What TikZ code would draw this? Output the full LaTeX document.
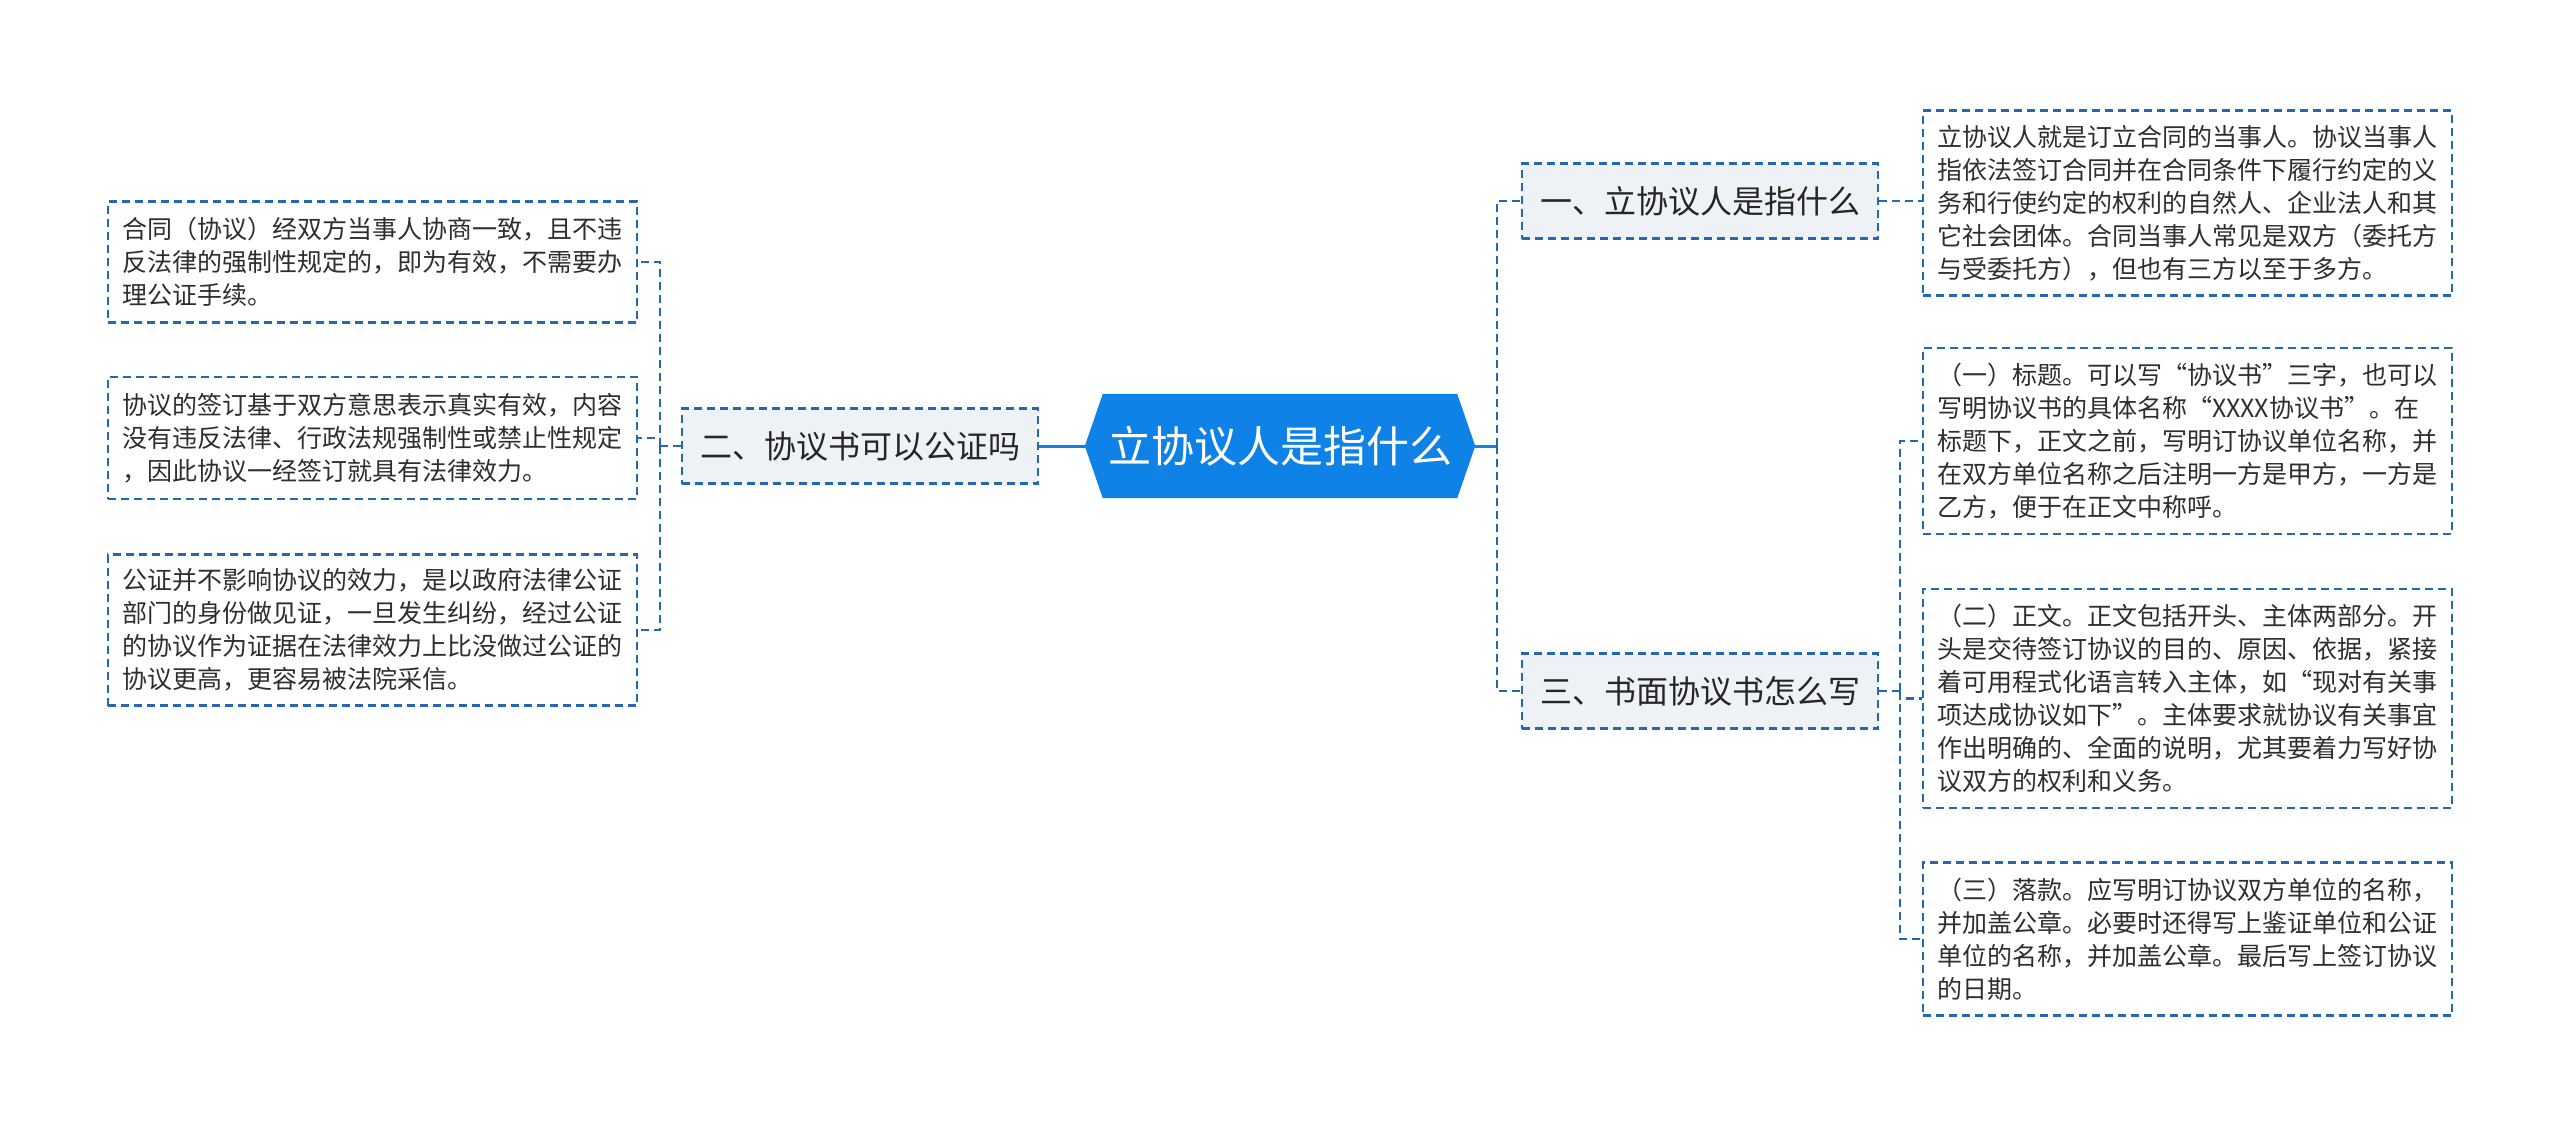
\documentclass[tikz,border=0pt]{standalone}
\usepackage{fontspec}
\setmainfont{Noto Sans CJK SC}
\usetikzlibrary{backgrounds}
\definecolor{rootblue}{HTML}{0E82E6}
\definecolor{lineblue}{HTML}{2368B0}
\definecolor{branchfill}{HTML}{EEF1F5}
\definecolor{txt}{HTML}{2E2E2E}
\tikzset{
 leafbox/.style={draw=lineblue, line width=2.4pt, dash pattern=on 8pt off 5pt, fill=white, text=txt, align=left, text width=501pt, inner xsep=14pt, inner ysep=0pt, font=\fontsize{25}{33}\selectfont},
 branchbox/.style={draw=lineblue, line width=2.4pt, dash pattern=on 8pt off 5pt, fill=branchfill, text=black!85, minimum width=356pt, minimum height=75pt, inner sep=0pt, font=\fontsize{32}{36}\selectfont},
 rootnode/.style={minimum width=390pt, minimum height=104pt, inner sep=0pt, text=white, font=\fontsize{43}{48}\selectfont},
 dashconn/.style={draw=lineblue, line width=2.4pt, dash pattern=on 8pt off 5pt},
 solidconn/.style={draw=rootblue, line width=3pt},
}
\begin{document}
\begin{tikzpicture}[x=1pt,y=-1pt]
\useasboundingbox (0,0) rectangle (2560,1125);
% root and branches
\node[rootnode] (root) at (1280,446) {立协议人是指什么};
\node[branchbox] (b2) at (860,446) {二、协议书可以公证吗};
\node[branchbox] (b1) at (1700,201) {一、立协议人是指什么};
\node[branchbox] (b3) at (1700,691) {三、书面协议书怎么写};
% left leaves
\node[leafbox, minimum height=121pt] (L1) at (372.5,262) {合同（协议）经双方当事人协商一致，且不违\\反法律的强制性规定的，即为有效，不需要办\\理公证手续。};
\node[leafbox, minimum height=122pt] (L2) at (372.5,438) {协议的签订基于双方意思表示真实有效，内容\\没有违反法律、行政法规强制性或禁止性规定\\，因此协议一经签订就具有法律效力。};
\node[leafbox, minimum height=151pt] (L3) at (372.5,630) {公证并不影响协议的效力，是以政府法律公证\\部门的身份做见证，一旦发生纠纷，经过公证\\的协议作为证据在法律效力上比没做过公证的\\协议更高，更容易被法院采信。};
% right leaves
\node[leafbox, minimum height=185pt] (R1) at (2187.5,203) {立协议人就是订立合同的当事人。协议当事人\\指依法签订合同并在合同条件下履行约定的义\\务和行使约定的权利的自然人、企业法人和其\\它社会团体。合同当事人常见是双方（委托方\\与受委托方），但也有三方以至于多方。};
\node[leafbox, minimum height=186pt] (R3a) at (2187.5,441) {（一）标题。可以写“协议书”三字，也可以\\写明协议书的具体名称“XXXX协议书”。在\\标题下，正文之前，写明订协议单位名称，并\\在双方单位名称之后注明一方是甲方，一方是\\乙方，便于在正文中称呼。};
\node[leafbox, minimum height=219pt] (R3b) at (2187.5,698.5) {（二）正文。正文包括开头、主体两部分。开\\头是交待签订协议的目的、原因、依据，紧接\\着可用程式化语言转入主体，如“现对有关事\\项达成协议如下”。主体要求就协议有关事宜\\作出明确的、全面的说明，尤其要着力写好协\\议双方的权利和义务。};
\node[leafbox, minimum height=153pt] (R3c) at (2187.5,939) {（三）落款。应写明订协议双方单位的名称，\\并加盖公章。必要时还得写上鉴证单位和公证\\单位的名称，并加盖公章。最后写上签订协议\\的日期。};
% junction points
\coordinate (lsp) at (660,446);
\coordinate (rsp) at (1497,446);
\coordinate (rsp3) at (1900,691);
% connectors
\draw[solidconn] (root.west) -- (b2.east);
\draw[dashconn] (b2.west) -- (lsp);
\draw[dashconn] (lsp) |- (L1.east);
\draw[dashconn] (lsp) |- (L2.east);
\draw[dashconn] (lsp) |- (L3.east);
\draw[solidconn] (root.east) -- (rsp);
\draw[dashconn] (rsp) |- (b1.west);
\draw[dashconn] (rsp) |- (b3.west);
\draw[dashconn] (b1.east) -- (b1.east -| R1.west);
\draw[dashconn] (b3.east) -- (rsp3);
\draw[dashconn] (rsp3) |- (R3a.west);
\draw[dashconn] (rsp3) |- (R3b.west);
\draw[dashconn] (rsp3) |- (R3c.west);
\begin{scope}[on background layer]
\fill[white] (0,0) rectangle (2560,1125);
\fill[rootblue] (root.west) -- ([xshift=18pt]root.north west) -- ([xshift=-18pt]root.north east) -- (root.east) -- ([xshift=-18pt]root.south east) -- ([xshift=18pt]root.south west) -- cycle;
\end{scope}
\end{tikzpicture}
\end{document}
